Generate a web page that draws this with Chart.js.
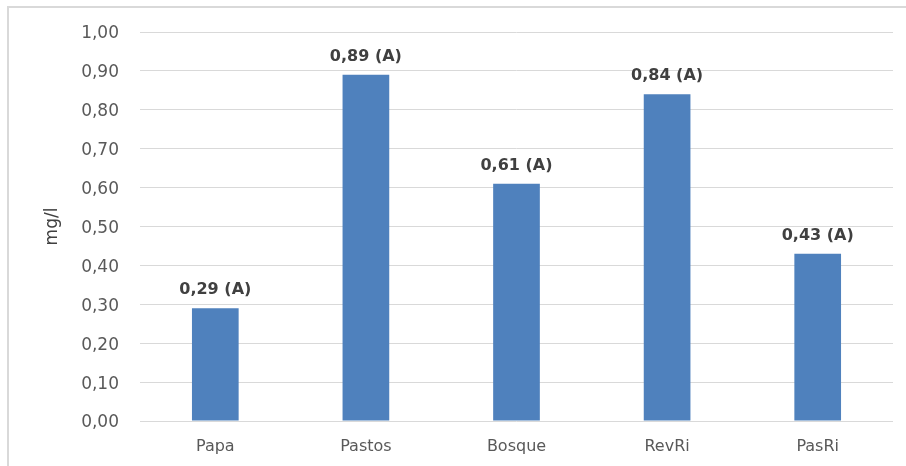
<!DOCTYPE html>
<html>
<head>
<meta charset="utf-8">
<script src="https://cdn.jsdelivr.net/npm/chart.js@4.4.1/dist/chart.umd.min.js"></script>
<style>
  html, body { margin: 0; padding: 0; background: #ffffff; }
  #wrap { width: 906px; height: 466px; position: relative; }
</style>
</head>
<body>
<div id="wrap"><canvas id="c" width="906" height="466"></canvas></div>
<script>
// Land-use categories and mean concentration (mg/l)
const categories = ['Papa', 'Pastos', 'Bosque', 'RevRi', 'PasRi'];
const values = [0.29, 0.89, 0.61, 0.84, 0.43];
const groups = ['A', 'A', 'A', 'A', 'A'];
const yTicks = [0, 0.1, 0.2, 0.3, 0.4, 0.5, 0.6, 0.7, 0.8, 0.9, 1.0];

const FONT = '"DejaVu Sans", "Liberation Sans", sans-serif';
const fmt = v => v.toFixed(2).replace('.', ',');

// light frame around the chart
const framePlugin = {
  id: 'frame',
  beforeDraw(chart) {
    const ctx = chart.ctx;
    ctx.save();
    ctx.fillStyle = '#ffffff';
    ctx.fillRect(0, 0, chart.width, chart.height);
    ctx.strokeStyle = '#d9d9d9';
    ctx.lineWidth = 2;
    ctx.beginPath();
    ctx.moveTo(8, chart.height + 2);
    ctx.lineTo(8, 7);
    ctx.lineTo(chart.width + 2, 7);
    ctx.stroke();
    ctx.restore();
  }
};

// value + group letter above each bar
const labelPlugin = {
  id: 'barLabels',
  afterDatasetsDraw(chart) {
    const ctx = chart.ctx;
    const meta = chart.getDatasetMeta(0);
    ctx.save();
    ctx.font = 'bold 16px ' + FONT;
    ctx.fillStyle = '#404040';
    ctx.textAlign = 'center';
    ctx.textBaseline = 'alphabetic';
    meta.data.forEach((bar, i) => {
      ctx.fillText(fmt(values[i]) + ' (' + groups[i] + ')', bar.x, bar.y - 14);
    });
    ctx.restore();
  }
};

new Chart(document.getElementById('c'), {
  type: 'bar',
  data: {
    labels: categories,
    datasets: [{
      data: values,
      backgroundColor: '#4f81bd',
      borderWidth: 0,
      categoryPercentage: 1.0,
      barPercentage: 0.31
    }]
  },
  options: {
    responsive: false,
    animation: false,
    devicePixelRatio: 1,
    layout: { padding: { left: 0, right: 13, top: 32, bottom: 0 } },
    plugins: {
      legend: { display: false },
      tooltip: { enabled: false }
    },
    scales: {
      x: {
        grid: { display: false, drawTicks: false },
        border: { display: false },
        ticks: {
          color: '#595959',
          font: { family: FONT, size: 16 },
          padding: 16
        },
        afterFit(scale) { scale.height = 466 - 421; }
      },
      y: {
        min: 0,
        max: 1,
        afterBuildTicks(scale) { scale.ticks = yTicks.map(v => ({ value: v })); },
        grid: { color: '#d9d9d9', lineWidth: 1, drawTicks: false },
        border: { display: false },
        ticks: {
          color: '#595959',
          font: { family: FONT, size: 17 },
          padding: 21,
          labelOffset: 2,
          callback: v => fmt(v)
        },
        title: {
          display: true,
          text: 'mg/l',
          color: '#404040',
          font: { family: FONT, size: 17 },
          padding: { top: 42, bottom: 0 }
        },
        afterFit(scale) { scale.width = 140; }
      }
    }
  },
  plugins: [framePlugin, labelPlugin]
});
</script>
</body>
</html>
